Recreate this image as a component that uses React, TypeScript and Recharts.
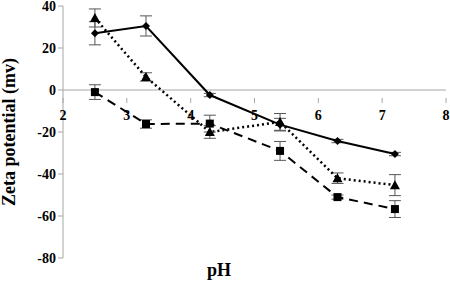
import { LineChart, Line, XAxis, YAxis, ErrorBar, ReferenceLine } from "recharts";

const ph = [2.5, 3.3, 4.3, 5.4, 6.3, 7.2];
const diamondVals = [27, 30.5, -2.4, -16.5, -24.3, -30.5];
const diamondErr = [5.5, 4.8, 0.8, 3, 0.8, 0.8];
const triangleVals = [34.3, 6.2, -20, -15.2, -42, -45.3];
const triangleErr = [4.3, 2, 3, 4, 2.5, 5];
const squareVals = [-1, -16.2, -16, -29, -51, -56.7];
const squareErr = [3.5, 2, 4, 4.5, 1, 4];

const xTicks = [2, 3, 4, 5, 6, 7, 8];
const yTicks = [-80, -60, -40, -20, 0, 20, 40];

const data = ph.map((p, i) => ({
  ph: p,
  d: diamondVals[i],
  dErr: diamondErr[i],
  t: triangleVals[i],
  tErr: triangleErr[i],
  s: squareVals[i],
  sErr: squareErr[i],
}));

const W = 450;
const H = 282;
const TOP = 6;
const XH = 24;
const PLOT_H = H - TOP - XH;
// x axis crosses at y = 0
const ZERO_SHIFT = (PLOT_H * 80) / 120;

const font = "'Liberation Serif', 'Times New Roman', serif";

function XTick(props: any) {
  const { x, y, payload } = props;
  const y0 = y - ZERO_SHIFT;
  return (
    <g>
      <line x1={x} x2={x} y1={y0} y2={y0 + 5} stroke="#a6a6a6" />
      <text x={x} y={y0 + 22} textAnchor="middle" fontFamily={font} fontWeight="bold" fontSize={14} fill="#000">
        {payload.value}
      </text>
    </g>
  );
}

const Diamond = (props: any) => {
  const { cx, cy } = props;
  if (cx == null || cy == null) return null;
  const r = 4;
  return <polygon points={`${cx},${cy - r} ${cx + r},${cy} ${cx},${cy + r} ${cx - r},${cy}`} fill="#000" />;
};

const Triangle = (props: any) => {
  const { cx, cy } = props;
  if (cx == null || cy == null) return null;
  const r = 5;
  return <polygon points={`${cx},${cy - r} ${cx + r},${cy + r * 0.8} ${cx - r},${cy + r * 0.8}`} fill="#000" />;
};

const Square = (props: any) => {
  const { cx, cy } = props;
  if (cx == null || cy == null) return null;
  const r = 4;
  return <rect x={cx - r} y={cy - r} width={r * 2} height={r * 2} fill="#000" />;
};

export default function App() {
  return (
    <div style={{ position: "absolute", left: 0, top: 0, width: W, height: H, background: "#fff" }}>
      <LineChart width={W} height={H} data={data} margin={{ top: TOP, right: 4, bottom: 0, left: 0 }}>
        <XAxis
          dataKey="ph"
          type="number"
          domain={[2, 8]}
          ticks={xTicks}
          axisLine={false}
          tickLine={false}
          height={XH}
          tick={<XTick />}
          interval={0}
        />
        <YAxis
          type="number"
          domain={[-80, 40]}
          ticks={yTicks}
          width={63}
          stroke="#a6a6a6"
          tickSize={5}
          tick={{ fontFamily: font, fontWeight: "bold", fontSize: 14, fill: "#000" }}
          interval={0}
          label={{
            value: "Zeta potential (mv)",
            angle: -90,
            position: "insideLeft",
            dx: 4,
            dy: 0,
            style: { fontFamily: font, fontWeight: "bold", fontSize: 18, fill: "#000", textAnchor: "middle" },
          }}
        />
        <ReferenceLine y={0} stroke="#a6a6a6" />
        <Line dataKey="d" stroke="#000" strokeWidth={2} dot={<Diamond />} isAnimationActive={false}>
          <ErrorBar dataKey="dErr" direction="y" width={6} stroke="#555" strokeWidth={1} />
        </Line>
        <Line dataKey="t" stroke="#000" strokeWidth={2.5} strokeDasharray="2 3" dot={<Triangle />} isAnimationActive={false}>
          <ErrorBar dataKey="tErr" direction="y" width={6} stroke="#555" strokeWidth={1} />
        </Line>
        <Line dataKey="s" stroke="#000" strokeWidth={2} strokeDasharray="9 6" dot={<Square />} isAnimationActive={false}>
          <ErrorBar dataKey="sErr" direction="y" width={6} stroke="#555" strokeWidth={1} />
        </Line>
        <text x={219} y={276} textAnchor="middle" fontFamily={font} fontWeight="bold" fontSize={18} fill="#000">
          pH
        </text>
      </LineChart>
    </div>
  );
}
